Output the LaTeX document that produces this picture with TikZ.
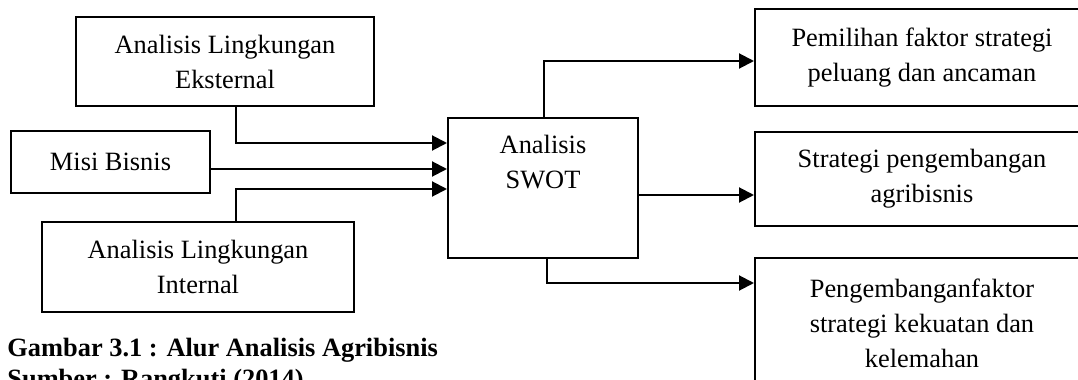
\documentclass[tikz,border=0pt]{standalone}
\usepackage{fontspec}
\setmainfont{Liberation Serif}
\usetikzlibrary{arrows.meta}
\begin{document}
\begin{tikzpicture}[x=0.5pt,y=-0.5pt,
  font=\fontsize{13.2}{17.5}\selectfont,
  box/.style={draw, line width=1pt, rectangle, inner sep=0pt, align=center},
  arr/.style={line width=1pt, -{Triangle[length=7.5pt,width=7.5pt]}}]
\useasboundingbox (0,0) rectangle (1078,380);
\clip (0,0) rectangle (1078,380);
\node[box, minimum width=149pt, minimum height=44.5pt] (ext) at (225,61.5) {Analisis Lingkungan\\Eksternal};
\node[box, minimum width=99.5pt, minimum height=31pt] (misi) at (110.5,162) {Misi Bisnis};
\node[box, minimum width=156pt, minimum height=45pt] (int) at (198,267) {Analisis Lingkungan\\Internal};
\node[box, minimum width=95pt, minimum height=70pt] (swot) at (543,188) {};
\node[align=center, anchor=north, inner sep=0pt] (swott) at ([yshift=-9pt]swot.north) {Analisis\\SWOT};
\node[box, minimum width=167pt, minimum height=48.5pt] (pa) at (922,57.5) {Pemilihan faktor strategi\\peluang dan ancaman};
\node[box, minimum width=167pt, minimum height=47pt] (pb) at (922,179) {Strategi pengembangan\\agribisnis};
\node[box, minimum width=167pt, minimum height=65pt] (pc) at (922,323) {Pengembanganfaktor\\strategi kekuatan dan\\kelemahan};
\draw[arr] ([xshift=5.5pt]ext.south) |- ([yshift=22.5pt]swot.west);
\draw[arr] ([yshift=-3.5pt]misi.east) -- ([yshift=9.5pt]swot.west);
\draw[arr] ([xshift=19pt]int.north) |- ([yshift=-0.5pt]swot.west);
\draw[arr] ([xshift=0.5pt]swot.north) |- ([yshift=-1.75pt]pa.west);
\draw[arr] ([yshift=-3.5pt]swot.east) -- ([yshift=-8pt]pb.west);
\draw[arr] ([xshift=2pt]swot.south) |- ([yshift=20pt]pc.west);
\node[anchor=north west, inner sep=0pt, align=left, font=\fontsize{13.2}{15.75}\selectfont\bfseries] (cap) at (7,337.5) {Gambar 3.1 : Alur Analisis Agribisnis\\Sumber : Rangkuti (2014)};
\end{tikzpicture}
\end{document}
